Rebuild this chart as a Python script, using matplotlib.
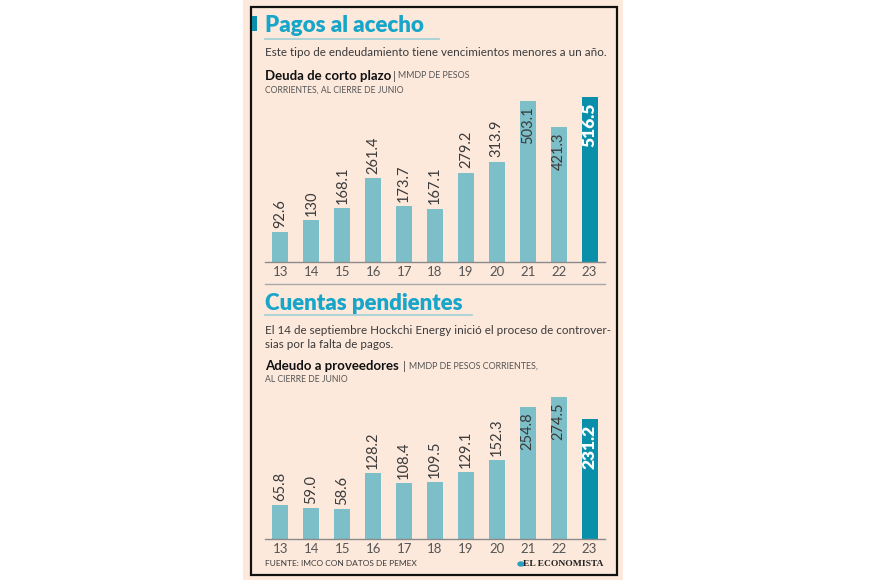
import matplotlib
matplotlib.use("Agg")
import matplotlib.pyplot as plt
from matplotlib.patches import Rectangle

# data
years = ["13", "14", "15", "16", "17", "18", "19", "20", "21", "22", "23"]
deuda = [92.6, 130, 168.1, 261.4, 173.7, 167.1, 279.2, 313.9, 503.1, 421.3, 516.5]
deuda_lbl = ["92.6", "130", "168.1", "261.4", "173.7", "167.1", "279.2", "313.9", "503.1", "421.3", "516.5"]
adeudo = [65.8, 59.0, 58.6, 128.2, 108.4, 109.5, 129.1, 152.3, 254.8, 274.5, 231.2]
adeudo_lbl = ["65.8", "59.0", "58.6", "128.2", "108.4", "109.5", "129.1", "152.3", "254.8", "274.5", "231.2"]

PEACH = "#fde9dc"
BAR = "#7cbfc8"
BAR_HI = "#0a8fab"
TITLE = "#17a5c9"
TXT = "#3a3a3a"
GRAY = "#555555"

plt.rcParams['font.family'] = ['Lato', 'DejaVu Sans']

W, H = 870, 580
fig = plt.figure(figsize=(8.7, 5.8), dpi=100, facecolor="white")


def fx(px):
    return px / W


def fy(py):
    return 1 - py / H


# panel background and frame
fig.patches.append(Rectangle((fx(243), 0), fx(623) - fx(243), 1, transform=fig.transFigure,
                             facecolor=PEACH, edgecolor="none", zorder=-5))
fig.patches.append(Rectangle((fx(251), fy(575)), fx(617) - fx(251), fy(7) - fy(575),
                             transform=fig.transFigure, facecolor="none", edgecolor="#111111",
                             linewidth=1.6, zorder=1))
fig.patches.append(Rectangle((fx(252), fy(31)), fx(257) - fx(252), fy(16) - fy(31),
                             transform=fig.transFigure, facecolor=BAR_HI, edgecolor="none", zorder=2))


def hline(x0, x1, y, color, lw):
    fig.add_artist(plt.Line2D([fx(x0), fx(x1)], [fy(y), fy(y)], transform=fig.transFigure,
                              color=color, linewidth=lw))


def draw_bars(ax, vals, lbls, inside, ymax):
    colors = [BAR] * (len(vals) - 1) + [BAR_HI]
    x = range(len(vals))
    ax.bar(x, vals, width=0.52, color=colors, zorder=2)
    ax.set_xlim(-0.5, 10.5)
    ax.set_ylim(0, ymax)
    ax.set_facecolor("none")
    for s in ["top", "left", "right"]:
        ax.spines[s].set_visible(False)
    ax.spines["bottom"].set_color("#8a8a8a")
    ax.spines["bottom"].set_linewidth(1.0)
    ax.set_yticks([])
    ax.set_xticks(list(x))
    ax.set_xticklabels(years, fontsize=9.5, color=GRAY)
    ax.tick_params(axis="x", length=0, pad=3)
    for i, (v, t) in enumerate(zip(vals, lbls)):
        if i == len(vals) - 1:
            ax.annotate(t, (i, v), xytext=(0, -4), textcoords="offset points", rotation=90,
                        ha="center", va="top", fontsize=12.5, fontweight="heavy", color="white")
        elif i in inside:
            ax.annotate(t, (i, v), xytext=(0, -4), textcoords="offset points", rotation=90,
                        ha="center", va="top", fontsize=10.5, color=TXT)
        else:
            ax.annotate(t, (i, v), xytext=(0, 3), textcoords="offset points", rotation=90,
                        ha="center", va="bottom", fontsize=10.5, color=TXT)


# --- section 1 ---
fig.text(fx(265), fy(26), "Pagos al acecho", fontsize=16, fontweight="heavy", color=TITLE,
         va="center", ha="left")
hline(265, 439, 39, "#9fcfd6", 1.2)
fig.text(fx(265), fy(53), "Este tipo de endeudamiento tiene vencimientos menores a un año.",
         fontsize=8.4, color=TXT, va="center", ha="left")
fig.text(fx(265), fy(76), "Deuda de corto plazo", fontsize=9.5, fontweight="bold", color="#111111",
         va="center", ha="left")
fig.text(fx(393), fy(76), "|", fontsize=8.5, color=GRAY, va="center", ha="left")
fig.text(fx(398), fy(76), "MMDP DE PESOS", fontsize=6.4, color=GRAY, va="center", ha="left")
fig.text(fx(265), fy(90), "CORRIENTES, AL CIERRE DE JUNIO", fontsize=6.2, color=GRAY,
         va="center", ha="left")

ax1 = fig.add_axes([fx(265), fy(262), fx(605) - fx(265), fy(95) - fy(262)])
draw_bars(ax1, deuda, deuda_lbl, inside=[8, 9], ymax=167 / 0.32)

hline(265, 605, 284, "#a8a8a8", 1.0)

# --- section 2 ---
fig.text(fx(265), fy(303), "Cuentas pendientes", fontsize=16, fontweight="heavy", color=TITLE,
         va="center", ha="left")
hline(265, 472, 315, "#9fcfd6", 1.2)
fig.text(fx(265), fy(331), "El 14 de septiembre Hockchi Energy inició el proceso de controver-",
         fontsize=8.4, color=TXT, va="center", ha="left")
fig.text(fx(265), fy(344), "sias por la falta de pagos.", fontsize=8.4, color=TXT,
         va="center", ha="left")
fig.text(fx(265), fy(366), "Adeudo a proveedores", fontsize=9.5, fontweight="bold", color="#111111",
         va="center", ha="left")
fig.text(fx(403), fy(366), "|", fontsize=8.5, color=GRAY, va="center", ha="left")
fig.text(fx(409), fy(366), "MMDP DE PESOS CORRIENTES,", fontsize=6.4, color=GRAY,
         va="center", ha="left")
fig.text(fx(265), fy(380), "AL CIERRE DE JUNIO", fontsize=6.2, color=GRAY, va="center", ha="left")

ax2 = fig.add_axes([fx(265), fy(539), fx(605) - fx(265), fy(390) - fy(539)])
draw_bars(ax2, adeudo, adeudo_lbl, inside=[8, 9], ymax=149 / 0.517)

# footer
fig.text(fx(265), fy(564), "FUENTE: IMCO CON DATOS DE PEMEX", fontsize=6.0, color=TXT,
         va="center", ha="left")
fig.text(fx(603), fy(564), "EL ECONOMISTA", fontsize=6.8, fontweight="bold", color="#222222",
         family=["Liberation Serif", "DejaVu Serif"], va="center", ha="right")
fig.add_artist(plt.Circle((fx(521), fy(564)), 3 / W, transform=fig.transFigure,
                          color="#2a9fc4"))

fig.savefig("out.png", dpi=100, facecolor="white")
